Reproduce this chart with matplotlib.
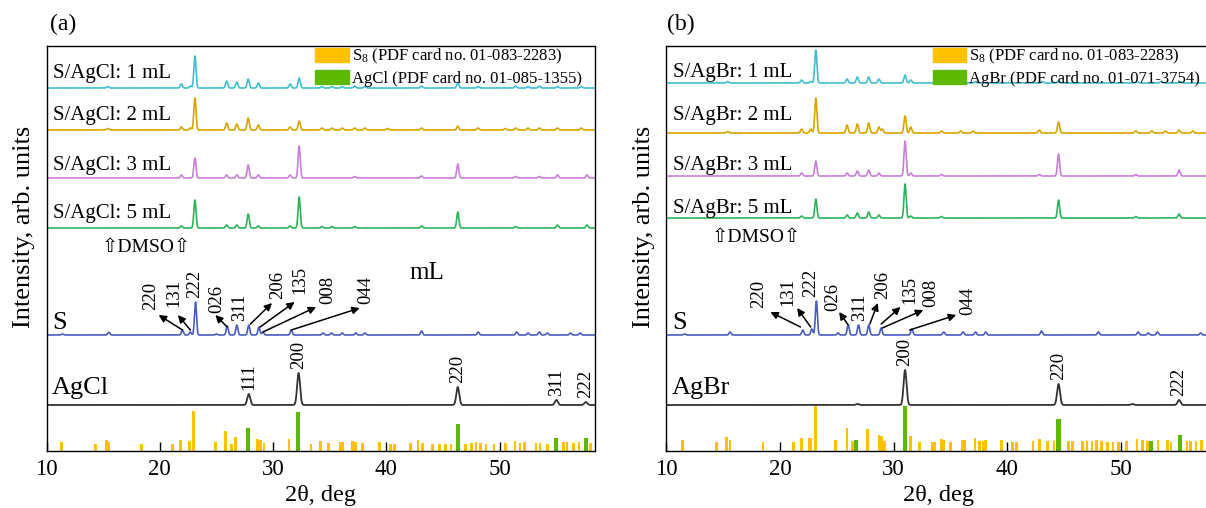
import numpy as np
import matplotlib
matplotlib.use("Agg")
import matplotlib.pyplot as plt
from matplotlib.patches import Patch

plt.rcParams['font.family'] = ['Liberation Serif', 'DejaVu Sans']
plt.rcParams['mathtext.fontset'] = 'custom'
plt.rcParams['mathtext.rm'] = 'Liberation Serif'
plt.rcParams['mathtext.it'] = 'Liberation Serif'

################################################################################
# Dados: posicoes (2theta) e alturas dos picos de cada curva
#
# Painel (a) - S/AgCl
agcl_1ml_pos = [15.4, 21.9, 22.7, 23.1, 25.9, 26.8, 27.8, 28.7, 31.5, 32.3, 34.3, 35.2, 36.1,
                37.2, 38.1, 43.1, 46.3, 48.1, 51.4, 52.5, 53.5, 55.1, 57.2]
agcl_1ml_int = [1.5, 4, 2, 32, 7, 6, 9, 5, 4, 10, 1.5, 1.5, 1.5, 2, 1.5, 2, 5, 1.5, 2, 1.5, 2, 1.5, 1.5]
agcl_2ml_pos = [15.4, 21.9, 22.7, 23.1, 25.9, 26.8, 27.8, 28.7, 31.5, 32.3, 34.3, 35.2, 36.1,
                37.2, 38.1, 40.1, 43.1, 46.3, 48.1, 50.5, 51.4, 52.5, 53.5, 55.1, 57.2]
agcl_2ml_int = [1.5, 3, 2, 32, 7, 6, 12, 5, 3, 9, 2, 2, 2, 2, 2, 1.5, 2, 4, 2, 1.5, 2, 2, 2, 2, 2]
agcl_3ml_pos = [21.9, 23.1, 25.9, 26.8, 27.8, 28.7, 31.5, 32.3, 37.2, 43.1, 46.3, 51.4, 53.5, 55.1, 57.7]
agcl_3ml_int = [3, 20, 3, 3, 13, 3, 3, 32, 1.5, 2, 14, 1.5, 1.5, 3, 3]
agcl_5ml_pos = [21.9, 23.1, 25.9, 26.8, 27.8, 28.7, 31.5, 32.3, 34.3, 35.2, 37.2, 43.1, 46.3, 51.4, 55.1, 57.7]
agcl_5ml_int = [2, 28, 3, 3, 14, 2, 2, 31, 1.5, 1.5, 1.5, 2, 16, 1.5, 3, 3]
s_a_pos = [11.4, 15.5, 22.0, 22.7, 23.15, 25.0, 25.95, 26.8, 27.85, 28.75, 29.1, 31.6, 34.4, 35.15,
           36.1, 37.3, 38.1, 43.1, 48.1, 51.5, 52.5, 53.5, 54.2, 56.25, 57.1]
s_a_int = [1, 2.7, 5, 3, 33, 1, 9, 10, 10, 8, 3, 5, 2, 2, 2, 2, 2, 4, 3, 3, 2, 3, 2, 2, 2]
agcl_pos = [27.85, 32.25, 46.3, 55.0, 57.6]
agcl_int = [11, 32, 18, 5, 3]
agcl_hkl = ['111', '200', '220', '311', '222']

# Cartao PDF do S8 (barras amarelas) e AgCl (barras verdes)
s8_a_pos = [11.3, 14.3, 15.3, 15.5, 18.4, 21.1, 21.8, 22.6, 23.0, 24.9, 25.8, 26.3, 26.7, 28.6,
            28.9, 29.2, 31.4, 33.35, 34.2, 34.9, 35.9, 36.1, 37.0, 37.3, 37.9, 39.4, 40.35, 40.7,
            42.15, 42.8, 43.2, 44.1, 44.7, 45.2, 45.7, 47.0, 47.5, 47.9, 48.3, 48.8, 49.5, 50.5,
            51.35, 51.8, 52.2, 53.2, 53.55, 54.2, 55.6, 55.95, 56.5, 57.0, 57.7, 58.0]
s8_a_int = [9, 7, 11, 9, 7, 7, 11, 10, 40, 9, 20, 7, 14, 12, 11, 8, 12, 7, 10, 8, 9, 9, 10, 9, 8,
            9, 7, 7, 8, 11, 8, 7, 7, 7, 7, 7, 8, 9, 8, 7, 7, 8, 10, 8, 9, 8, 8, 7, 9, 9, 8, 9, 10, 8]
agcl_card_pos = [27.8, 32.2, 46.3, 55.0, 57.6]
agcl_card_int = [23, 39, 27, 13, 13]

# Painel (b) - S/AgBr
agbr_1ml_pos = [15.4, 21.9, 22.7, 23.15, 25.9, 26.8, 27.8, 28.7, 31.0, 31.5, 34.3, 37.2, 43.1,
                44.5, 51.4, 53.5, 55.2]
agbr_1ml_int = [1.5, 3, 1.5, 33, 4, 6, 6, 4, 8, 3, 1.5, 1.5, 1.5, 2, 1.5, 1.5, 1.5]
agbr_2ml_pos = [15.4, 21.9, 22.7, 23.15, 25.9, 26.8, 27.8, 28.7, 29.0, 31.0, 31.5, 34.2, 35.9,
                37.0, 42.8, 44.5, 51.3, 52.7, 53.9, 55.1, 56.3]
agbr_2ml_int = [1.5, 4, 4, 35, 8, 9, 10, 6, 4, 17, 6, 2, 2, 2, 3, 11, 2, 2, 2, 3, 2]
agbr_3ml_pos = [21.9, 23.15, 25.9, 26.8, 27.8, 28.7, 31.0, 31.5, 34.2, 42.8, 44.5, 51.3, 55.1]
agbr_3ml_int = [3, 15, 3, 5, 6, 3, 35, 3, 1.5, 1.5, 22, 1.5, 6]
agbr_5ml_pos = [21.9, 23.15, 25.9, 26.8, 27.8, 28.7, 31.0, 31.5, 34.2, 44.5, 51.3, 55.1]
agbr_5ml_int = [2, 19, 3, 5, 6, 3, 34, 2, 1.5, 18, 1.5, 4]
s_b_pos = [11.6, 15.6, 22.0, 22.8, 23.2, 25.1, 26.0, 26.9, 27.8, 28.9, 31.6, 34.4, 36.1, 37.2,
           38.1, 43.0, 48.0, 51.5, 52.4, 53.2, 57.0]
s_b_int = [1, 3, 5, 6, 34, 2, 10, 10, 10, 7, 6, 3, 3, 3, 3, 4, 3, 3, 2, 3, 2]
agbr_pos = [26.8, 31.0, 44.5, 51.0, 55.1]
agbr_int = [1, 35, 21, 1, 5]
agbr_hkl = ['', '200', '220', '', '222']

s8_b_pos = [11.4, 14.4, 15.3, 15.6, 18.5, 21.2, 21.9, 22.6, 22.7, 23.1, 24.9, 25.9, 26.4, 27.7,
            28.7, 28.9, 29.2, 31.5, 32.3, 33.4, 33.6, 34.2, 34.4, 35.0, 36.0, 36.2, 37.15, 37.55,
            37.9, 38.1, 39.5, 40.45, 40.8, 42.25, 42.8, 43.5, 44.1, 45.4, 45.7, 46.6, 47.0, 47.45,
            47.85, 48.3, 48.8, 49.3, 49.8, 50.5, 51.4, 51.9, 52.3, 53.25, 54.1, 54.4, 55.8, 56.1,
            56.6, 57.1]
s8_b_int = [11, 9, 14, 11, 9, 9, 13, 13, 13, 45, 11, 23, 10, 22, 16, 15, 10, 15, 9, 9, 9, 12, 11,
            9, 11, 11, 13, 10, 10, 11, 11, 9, 9, 10, 12, 10, 10, 10, 10, 10, 10, 10, 11, 10, 9, 9,
            9, 10, 12, 11, 10, 11, 11, 9, 10, 10, 10, 11]
agbr_card_pos = [26.7, 31.0, 44.5, 52.6, 55.2]
agbr_card_int = [11, 45, 32, 10, 16]

# Indices de Miller do enxofre, comuns aos dois paineis
s_hkl = ['220', '131', '222', '026', '311', '206', '135', '008', '044']

################################################################################
# Soma de picos gaussianos sobre a grade de 2theta
#
def perfil(grade, pos, alt, largura):
    y = np.zeros_like(grade)
    for p, a in zip(pos, alt):
        y += a * np.exp(-0.5 * ((grade - p) / largura) ** 2)
    return y

################################################################################
# Desenha um painel completo
#
def painel(ax, xmax, sal, amostras, s_pos, s_int, ref_pos, ref_int, ref_hkl,
           s8_pos, s8_int, card_pos, card_int, card_nome, s_rotulos, dmso, extra=None):
    grade = np.linspace(10, xmax, 5000)
    cores = ['#3fbfcf', '#d9a400', '#c97fd8', '#2cb35a']
    for (rot, base, lab_y, pos, alt), cor in zip(amostras, cores):
        ax.plot(grade, base + perfil(grade, pos, alt, 0.095), color=cor, lw=1.2)
        ax.text(10.55, lab_y, rot, fontsize=15, va='center', ha='left')

    # Enxofre puro
    ax.plot(grade, 116 + perfil(grade, s_pos, s_int, 0.09), color='#4a5cc0', lw=1.2)
    ax.text(10.5, 128, 'S', fontsize=19, va='center', ha='left')
    for hkl, (tx, ty, seta) in zip(s_hkl, s_rotulos):
        ax.text(tx, ty, hkl, rotation=90, fontsize=13.5, ha='center', va='center')
        if seta is not None:
            ax.annotate('', xy=seta[1], xytext=seta[0],
                        arrowprops=dict(arrowstyle='-|>', color='black', lw=1.1,
                                        mutation_scale=11, shrinkA=0, shrinkB=0))

    # Referencia AgCl / AgBr
    ax.plot(grade, 46 + perfil(grade, ref_pos, ref_int, 0.13), color='#333333', lw=1.3)
    ax.text(10.5, 63, sal, fontsize=19, va='center', ha='left')
    for p, a, hkl in zip(ref_pos, ref_int, ref_hkl):
        if hkl:
            ax.text(p, 46 + a + 4, hkl, rotation=90, fontsize=13.5, ha='center', va='bottom')

    # Barras dos cartoes PDF
    ax.bar(s8_pos, s8_int, width=0.24, color='#ffc000', zorder=1)
    ax.bar(card_pos, card_int, width=0.36, color='#5cb800', zorder=1.2)

    ax.text(dmso[0], dmso[1], '\u21e7DMSO\u21e7', fontsize=14, ha='center', va='center')
    if extra is not None:
        ax.text(extra[0], extra[1], 'mL', fontsize=18, ha='center', va='center')

    leg = ax.legend(handles=[Patch(color='#ffc000', label='S$_8$ (PDF card no. 01-083-2283)'),
                             Patch(color='#5cb800', label=card_nome)],
                    loc='upper left', bbox_to_anchor=(0.49, 0.997), frameon=False,
                    fontsize=12, handlelength=2.0, handleheight=0.95, handletextpad=0.2,
                    borderpad=0, borderaxespad=0, labelspacing=0.2)
    leg.set_zorder(5)

    ax.set_xlim(10, xmax)
    ax.set_ylim(0, 405)
    ax.set_yticks([])
    ax.set_xticks([10, 20, 30, 40, 50])
    ax.tick_params(axis='x', direction='in', length=6.5, width=1, labelsize=16.5, pad=6)
    ax.set_xlabel('2\u03b8, deg', fontsize=17.5, labelpad=3)
    ax.set_ylabel('Intensity, arb. units', fontsize=19)
    ax.yaxis.set_label_coords(-0.021, 0.553)
    for sp in ax.spines.values():
        sp.set_linewidth(1.0)


fig = plt.figure(figsize=(12.06, 5.08), dpi=100)
ax_a = fig.add_axes([0.03856, 0.1122, 0.4548, 0.7972])
ax_b = fig.add_axes([0.5525, 0.1122, 0.4508, 0.7972])

rot_a = [(19.2, 155, ((22.0, 121), (19.9, 136))),
         (21.25, 158, ((22.7, 121), (21.6, 136))),
         (23.05, 167, None),
         (25.0, 152, ((25.95, 124), (24.9, 136))),
         (27.0, 144, None),
         (30.4, 166, ((28.0, 127), (29.9, 148))),
         (32.4, 171, ((28.85, 124), (31.9, 149))),
         (34.85, 161, ((29.1, 119), (33.8, 144))),
         (38.2, 161, ((31.6, 121), (37.65, 143)))]
painel(ax_a, 58.41, 'AgCl',
       [('S/AgCl: 1 mL', 363, 378, agcl_1ml_pos, agcl_1ml_int),
        ('S/AgCl: 2 mL', 321, 336, agcl_2ml_pos, agcl_2ml_int),
        ('S/AgCl: 3 mL', 273, 286, agcl_3ml_pos, agcl_3ml_int),
        ('S/AgCl: 5 mL', 223, 238, agcl_5ml_pos, agcl_5ml_int)],
       s_a_pos, s_a_int, agcl_pos, agcl_int, agcl_hkl,
       s8_a_pos, s8_a_int, agcl_card_pos, agcl_card_int, 'AgCl (PDF card no. 01-085-1355)',
       rot_a, (18.8, 204), extra=(43.6, 178))

rot_b = [(18.1, 157, ((21.8, 124), (19.15, 139))),
         (20.7, 159, ((22.7, 124), (21.5, 143))),
         (22.7, 168, None),
         (24.6, 154, ((26.0, 126), (25.2, 139))),
         (27.0, 144, None),
         (29.0, 166, ((27.9, 127), (28.6, 148))),
         (31.4, 161, ((28.9, 127), (30.6, 144))),
         (33.3, 158, ((29.0, 123), (32.6, 141))),
         (36.5, 150, ((31.4, 121), (35.5, 136)))]
painel(ax_b, 57.82, 'AgBr',
       [('S/AgBr: 1 mL', 368, 379, agbr_1ml_pos, agbr_1ml_int),
        ('S/AgBr: 2 mL', 318, 336, agbr_2ml_pos, agbr_2ml_int),
        ('S/AgBr: 3 mL', 275, 286, agbr_3ml_pos, agbr_3ml_int),
        ('S/AgBr: 5 mL', 233, 243, agbr_5ml_pos, agbr_5ml_int)],
       s_b_pos, s_b_int, agbr_pos, agbr_int, agbr_hkl,
       s8_b_pos, s8_b_int, agbr_card_pos, agbr_card_int, 'AgBr (PDF card no. 01-071-3754)',
       rot_b, (17.95, 214))
ax_b.spines['right'].set_visible(False)

ax_a.text(0.006, 1.054, '(a)', transform=ax_a.transAxes, fontsize=17, va='center', ha='left')
ax_b.text(0.001, 1.054, '(b)', transform=ax_b.transAxes, fontsize=17, va='center', ha='left')

fig.savefig('out.png', dpi=100)
